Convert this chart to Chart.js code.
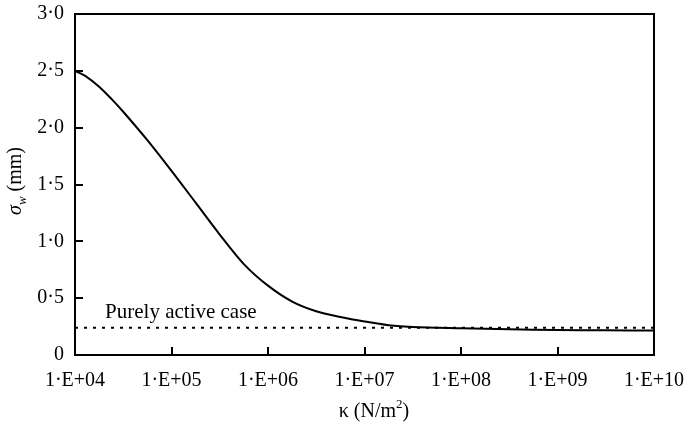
<!DOCTYPE html>
<html>
<head>
<meta charset="utf-8">
<script src="https://cdn.jsdelivr.net/npm/chart.js@4"></script>
<style>
  html, body { margin: 0; padding: 0; background: #fff; }
  #wrap { width: 687px; height: 428px; }
</style>
</head>
<body>
<div id="wrap"><canvas id="myChart" width="687" height="428"></canvas></div>
<script>
// stiffness kappa (N/m^2) and sigma_w (mm)
const kappa = [1e4, 1.33e4, 1.78e4, 2.37e4, 3.16e4, 5.62e4, 1e5, 1.78e5, 3.16e5, 5.62e5, 1e6, 1.78e6,
               3.16e6, 5.62e6, 1e7, 1.78e7, 3.16e7, 1e8, 3.16e8, 1e9, 3.16e9, 1e10];
const sigmaW = [2.50, 2.445, 2.36, 2.255, 2.14, 1.89, 1.62, 1.34, 1.06, 0.80, 0.61, 0.47,
                0.385, 0.335, 0.295, 0.262, 0.246, 0.235, 0.226, 0.22, 0.217, 0.216];
// purely active case (constant)
const activeKappa = [1e4, 1e10];
const activeSigma = [0.24, 0.24];
const xTicks = [1e4, 1e5, 1e6, 1e7, 1e8, 1e9, 1e10];
const yTicks = [0, 0.5, 1.0, 1.5, 2.0, 2.5, 3.0];

const serif = '"Liberation Serif", "DejaVu Serif", serif';

function fmtX(v) {
    const e = Math.round(Math.log10(v));
    return '1\u00B7E+' + String(e).padStart(2, '0');
}
function fmtY(v) {
    if (v === 0) return '0';
    return v.toFixed(1).replace('.', '\u00B7');
}

function noPad(scale) {
    scale.paddingLeft = 0;
    scale.paddingRight = 0;
    scale.paddingTop = 0;
    scale.paddingBottom = 0;
}

const framePlugin = {
    id: 'frame',
    afterDraw(chart) {
        const ctx = chart.ctx;
        const a = chart.chartArea;
        const xs = chart.scales.x, ys = chart.scales.y;
        ctx.save();
        ctx.strokeStyle = '#000';
        ctx.lineWidth = 2;
        ctx.strokeRect(a.left, a.top, a.right - a.left, a.bottom - a.top);
        // inward tick marks
        ctx.beginPath();
        xTicks.slice(1, -1).forEach(function(v) {
            const px = Math.round(xs.getPixelForValue(v));
            ctx.moveTo(px, a.bottom);
            ctx.lineTo(px, a.bottom - 8);
        });
        yTicks.slice(1, -1).forEach(function(v) {
            const py = Math.round(ys.getPixelForValue(v));
            ctx.moveTo(a.left, py);
            ctx.lineTo(a.left + 8, py);
        });
        ctx.stroke();

        ctx.fillStyle = '#000';
        // annotation
        ctx.font = '21px ' + serif;
        ctx.textAlign = 'left';
        ctx.textBaseline = 'alphabetic';
        ctx.fillText('Purely active case', xs.getPixelForValue(2.05e4), ys.getPixelForValue(0.325));

        // x title: kappa (N/m^2)
        ctx.font = '20px ' + serif;
        const cx = 374;
        const base = 417;
        const main = '\u03BA (N/m';
        const w1 = ctx.measureText(main).width;
        ctx.font = '13px ' + serif;
        const w2 = ctx.measureText('2').width;
        ctx.font = '20px ' + serif;
        const w3 = ctx.measureText(')').width;
        let sx = cx - (w1 + w2 + w3) / 2;
        ctx.fillText(main, sx, base);
        ctx.font = '13px ' + serif;
        ctx.fillText('2', sx + w1, base - 9);
        ctx.font = '20px ' + serif;
        ctx.fillText(')', sx + w1 + w2, base);

        // y title: sigma_w (mm), rotated
        ctx.translate(21, 181);
        ctx.rotate(-Math.PI / 2);
        ctx.font = 'italic 20px ' + serif;
        const s1 = ctx.measureText('\u03C3').width;
        ctx.font = 'italic 13px ' + serif;
        const s2 = ctx.measureText('w').width;
        ctx.font = '20px ' + serif;
        const s3 = ctx.measureText(' (mm)').width;
        sx = -(s1 + s2 + s3) / 2;
        ctx.font = 'italic 20px ' + serif;
        ctx.fillText('\u03C3', sx, 0);
        ctx.font = 'italic 13px ' + serif;
        ctx.fillText('w', sx + s1, 5);
        ctx.font = '20px ' + serif;
        ctx.fillText(' (mm)', sx + s1 + s2, 0);
        ctx.restore();
    }
};

new Chart(document.getElementById('myChart'), {
    type: 'line',
    data: {
        datasets: [{
            label: 'sigma_w',
            data: kappa.map(function(k, i) { return { x: k, y: sigmaW[i] }; }),
            borderColor: '#000',
            borderWidth: 2,
            pointRadius: 0,
            tension: 0.3,
            fill: false
        }, {
            label: 'Purely active case',
            data: activeKappa.map(function(k, i) { return { x: k, y: activeSigma[i] }; }),
            borderColor: '#000',
            borderWidth: 2,
            borderDash: [3, 6],
            pointRadius: 0,
            fill: false
        }]
    },
    options: {
        responsive: false,
        animation: false,
        layout: { padding: { top: 14, right: 33, left: 0, bottom: 0 } },
        plugins: {
            legend: { display: false },
            tooltip: { enabled: false }
        },
        scales: {
            x: {
                type: 'logarithmic',
                min: 1e4,
                max: 1e10,
                afterBuildTicks: function(scale) {
                    scale.ticks = xTicks.map(function(v) { return { value: v }; });
                },
                afterFit: function(scale) { scale.height = 73; noPad(scale); },
                grid: { display: false, drawTicks: false },
                border: { display: false },
                ticks: {
                    color: '#000',
                    font: { family: serif, size: 20 },
                    padding: 14,
                    maxRotation: 0,
                    autoSkip: false,
                    callback: function(v) { return fmtX(v); }
                }
            },
            y: {
                min: 0,
                max: 3,
                afterBuildTicks: function(scale) {
                    scale.ticks = yTicks.map(function(v) { return { value: v }; });
                },
                afterFit: function(scale) { scale.width = 75; noPad(scale); },
                grid: { display: false, drawTicks: false },
                border: { display: false },
                ticks: {
                    color: '#000',
                    font: { family: serif, size: 20 },
                    padding: 11,
                    callback: function(v) { return fmtY(v); }
                }
            }
        }
    },
    plugins: [framePlugin]
});
</script>
</body>
</html>
